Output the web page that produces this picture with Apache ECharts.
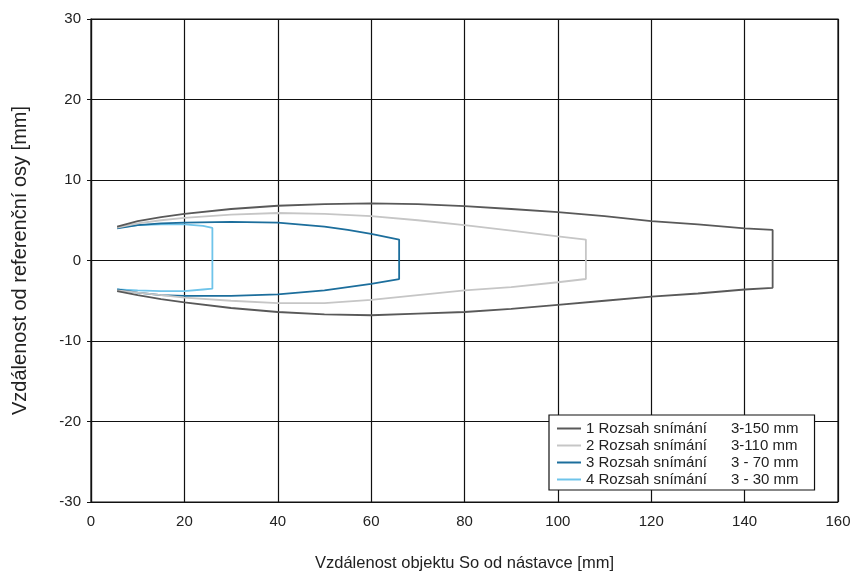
<!DOCTYPE html>
<html>
<head>
<meta charset="utf-8">
<script src="https://cdn.jsdelivr.net/npm/echarts@6/dist/echarts.min.js"></script>
<style>
  html, body { margin: 0; padding: 0; background: #fff; }
  #chart { width: 853px; height: 572px; }
</style>
</head>
<body>
<div id="chart"></div>
<script>
// Detection envelope outlines: [distance So (mm), offset from reference axis (mm)]
// Each outline runs along the upper edge, down the far end, then back along the lower edge.
const seriesNames = ['1 Rozsah snímání', '2 Rozsah snímání', '3 Rozsah snímání', '4 Rozsah snímání'];
const rangeLabels = ['3-150 mm', '3-110 mm', '3 - 70 mm', '3 - 30 mm'];

const range150 = [
  [5.6, 4.2], [10, 4.9], [15, 5.4], [20, 5.8], [30, 6.4], [40, 6.8], [50, 7.0], [60, 7.1],
  [70, 7.0], [80, 6.75], [90, 6.4], [100, 6.0], [110, 5.5], [120, 4.9], [130, 4.5], [140, 4.0],
  [146, 3.8], [146, -3.4],
  [140, -3.6], [130, -4.1], [120, -4.5], [110, -5.0], [100, -5.5], [90, -6.0], [80, -6.4],
  [70, -6.6], [60, -6.8], [50, -6.7], [40, -6.4], [30, -5.9], [20, -5.2], [15, -4.8],
  [10, -4.3], [5.6, -3.8]
];

const range110 = [
  [5.6, 4.1], [10, 4.6], [15, 5.0], [20, 5.3], [30, 5.7], [40, 5.9], [50, 5.8], [60, 5.5],
  [70, 5.0], [80, 4.4], [90, 3.7], [100, 3.0], [106, 2.6], [106, -2.3],
  [100, -2.7], [90, -3.3], [80, -3.7], [70, -4.3], [60, -4.9], [50, -5.3], [40, -5.3],
  [30, -5.0], [20, -4.6], [15, -4.3], [10, -4.0], [5.6, -3.7]
];

const range70 = [
  [5.6, 4.0], [10, 4.4], [15, 4.6], [20, 4.7], [30, 4.8], [40, 4.7], [50, 4.2], [55, 3.8],
  [60, 3.3], [66, 2.6], [66, -2.3],
  [60, -2.9], [55, -3.3], [50, -3.7], [40, -4.2], [30, -4.4], [20, -4.4], [15, -4.3],
  [10, -4.0], [5.6, -3.6]
];

const range30 = [
  [5.6, 4.1], [10, 4.4], [15, 4.5], [20, 4.5], [24, 4.3], [26, 4.05], [26, -3.5],
  [24, -3.6], [20, -3.8], [15, -3.8], [10, -3.7], [5.6, -3.6]
];

const outlines = [range150, range110, range70, range30];
const colors = ['#595959', '#c6c6c6', '#1c6e9c', '#6fc4ea'];

const xTicks = { min: 0, max: 160, interval: 20 };
const yTicks = { min: -30, max: 30, interval: 10 };

const chart = echarts.init(document.getElementById('chart'));
const font = '"Liberation Sans", Arial, sans-serif';
const ink = '#222';

chart.setOption({
  backgroundColor: '#fff',
  animation: false,
  grid: {
    left: 91, right: 15, top: 19, bottom: 70,
    containLabel: false,
    outerBoundsMode: 'none',
    show: true, borderColor: '#111', borderWidth: 1.2, backgroundColor: 'transparent'
  },
  xAxis: {
    type: 'value',
    min: xTicks.min, max: xTicks.max, interval: xTicks.interval,
    name: 'Vzdálenost objektu So od nástavce [mm]',
    nameLocation: 'middle', nameGap: 53,
    nameTextStyle: { fontFamily: font, fontSize: 16.5, color: ink },
    axisLine: { show: true, lineStyle: { color: '#111', width: 1.2 } },
    axisTick: { show: false },
    axisLabel: { fontFamily: font, fontSize: 15, color: ink, margin: 12 },
    splitLine: { show: true, lineStyle: { color: '#111', width: 1.2 } }
  },
  yAxis: {
    type: 'value',
    min: yTicks.min, max: yTicks.max, interval: yTicks.interval,
    name: 'Vzdálenost od referenční osy [mm]',
    nameLocation: 'middle', nameGap: 61,
    nameTextStyle: { fontFamily: font, fontSize: 20, color: ink },
    axisLine: { show: true, lineStyle: { color: '#111', width: 1.2 } },
    axisTick: { show: true, length: 4, inside: false, lineStyle: { color: '#111' } },
    axisLabel: { fontFamily: font, fontSize: 15, color: ink, margin: 10 },
    splitLine: { show: true, lineStyle: { color: '#111', width: 1.2 } }
  },
  legend: {
    orient: 'vertical',
    left: 549, top: 415,
    padding: [5, 16, 2, 8],
    itemGap: 0,
    itemWidth: 24, itemHeight: 2,
    icon: 'rect',
    backgroundColor: '#fff',
    borderColor: '#111', borderWidth: 1.2, borderRadius: 0,
    data: seriesNames,
    formatter: function (name) {
      const i = seriesNames.indexOf(name);
      return '{a|' + name + '}{b|' + rangeLabels[i] + '}';
    },
    textStyle: {
      fontFamily: font, fontSize: 15, color: ink, lineHeight: 17,
      rich: {
        a: { fontFamily: font, fontSize: 15, color: ink, width: 145, lineHeight: 17 },
        b: { fontFamily: font, fontSize: 15, color: ink, lineHeight: 17 }
      }
    }
  },
  series: outlines.map(function (pts, i) {
    return {
      name: seriesNames[i],
      type: 'line',
      data: pts,
      showSymbol: false,
      symbol: 'none',
      smooth: false,
      color: colors[i],
      lineStyle: { color: colors[i], width: 1.8 },
      z: 10 - i
    };
  })
});
</script>
</body>
</html>
